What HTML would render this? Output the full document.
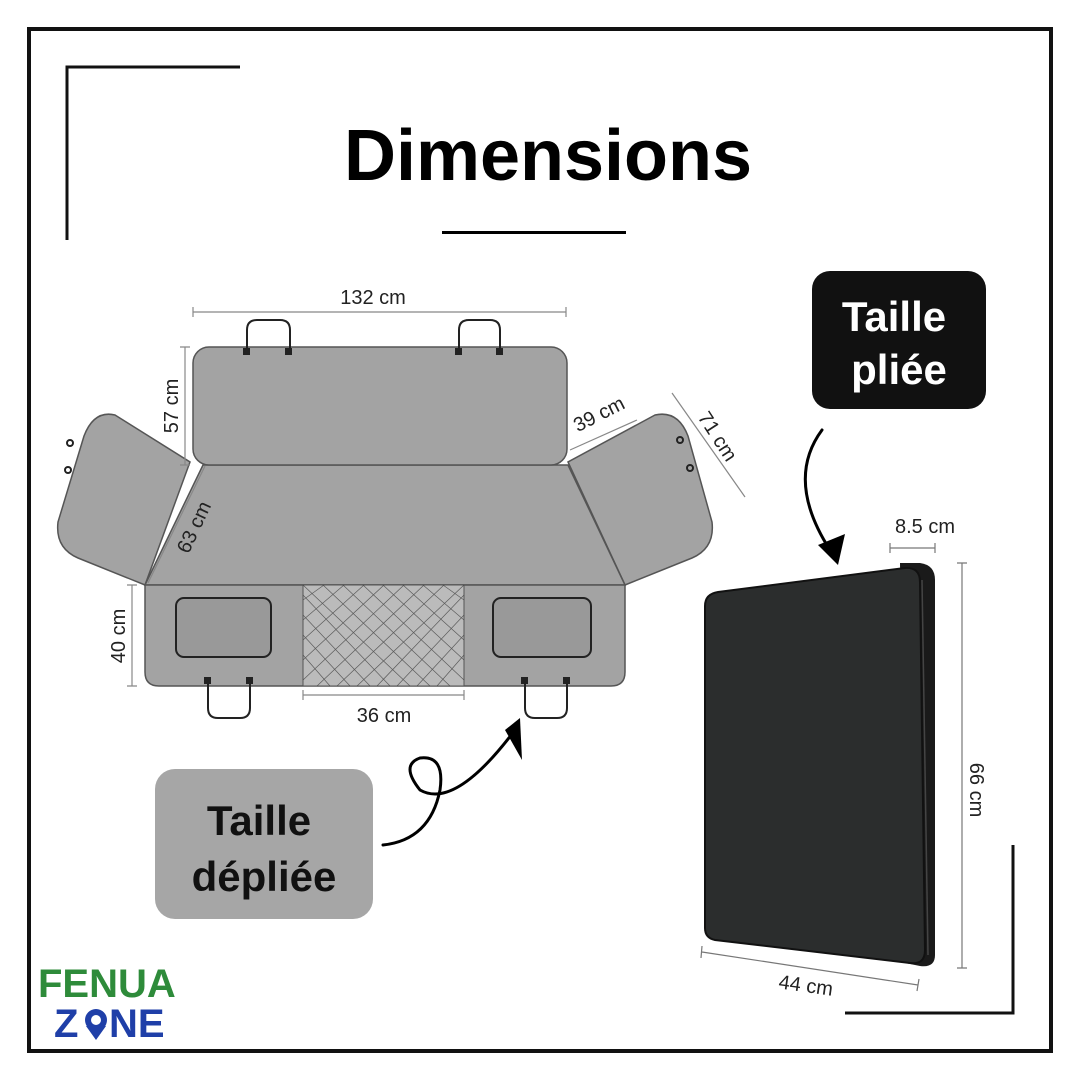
<!DOCTYPE html>
<html><head><meta charset="utf-8"><style>
html,body{margin:0;padding:0;background:#fff}
svg{display:block}
text{font-family:"Liberation Sans","DejaVu Sans",sans-serif}
</style></head><body>
<svg width="1080" height="1080" viewBox="0 0 1080 1080" xmlns="http://www.w3.org/2000/svg">
<rect x="0" y="0" width="1080" height="1080" fill="#fff"/>
<rect x="29" y="29" width="1022" height="1022" fill="none" stroke="#111" stroke-width="4"/>
<path d="M240 67 L67 67 L67 240" fill="none" stroke="#111" stroke-width="3"/>
<path d="M1013 845 L1013 1013 L845 1013" fill="none" stroke="#111" stroke-width="3"/>
<text x="548" y="180" font-size="72" font-weight="bold" text-anchor="middle" fill="#000" font-family="DejaVu Sans">Dimensions</text>
<rect x="442" y="231" width="184" height="3" fill="#000"/>

<!-- seat cover -->
<g stroke="#555" stroke-width="1.5" fill="#a3a3a3">
<path d="M115 415 L190 462 L145 585 L78 558 Q55 548 58 522 L84 436 Q94 410 115 415 Z"/>
<path d="M655 415 L568 462 L625 585 L692 558 Q715 548 712 522 L688 436 Q678 410 655 415 Z"/>
<path d="M203 465 L568 465 L625 585 L145 585 Z"/>
<rect x="193" y="347" width="374" height="118" rx="16"/>
<path d="M145 585 L625 585 L625 672 Q625 686 611 686 L159 686 Q145 686 145 672 Z"/>
</g>
<rect x="303" y="585" width="161" height="101" fill="#bbb" stroke="#555"/>
<g stroke="#444" stroke-width="0.7" opacity="0.8">
<path d="M303 595 L390 686 M303 615 L370 686 M303 635 L350 686 M303 655 L330 686 M303 585 L410 686 M323 585 L430 686 M343 585 L450 686 M363 585 L464 680 M383 585 L464 660 M403 585 L464 640 M423 585 L464 620 M443 585 L464 600"/>
<path d="M464 595 L377 686 M464 615 L397 686 M464 635 L417 686 M464 655 L437 686 M464 585 L357 686 M444 585 L337 686 M424 585 L317 686 M404 585 L303 680 M384 585 L303 660 M364 585 L303 640 M344 585 L303 620 M324 585 L303 600"/>
</g>
<rect x="176" y="598" width="95" height="59" rx="8" fill="#999" stroke="#222" stroke-width="2"/>
<rect x="493" y="598" width="98" height="59" rx="8" fill="#999" stroke="#222" stroke-width="2"/>
<g fill="none" stroke="#222" stroke-width="2">
<path d="M247 350 L247 330 Q247 320 257 320 L280 320 Q290 320 290 330 L290 350"/>
<path d="M459 350 L459 330 Q459 320 469 320 L490 320 Q500 320 500 330 L500 350"/>
<path d="M208 680 L208 708 Q208 718 218 718 L240 718 Q250 718 250 708 L250 680"/>
<path d="M525 680 L525 708 Q525 718 535 718 L557 718 Q567 718 567 708 L567 680"/>
<circle cx="70" cy="443" r="3"/><circle cx="68" cy="470" r="3"/>
<circle cx="680" cy="440" r="3"/><circle cx="690" cy="468" r="3"/>
</g>
<g fill="#222"><rect x="243" y="348" width="7" height="7"/><rect x="285" y="348" width="7" height="7"/><rect x="455" y="348" width="7" height="7"/><rect x="496" y="348" width="7" height="7"/><rect x="204" y="677" width="7" height="7"/><rect x="246" y="677" width="7" height="7"/><rect x="521" y="677" width="7" height="7"/><rect x="563" y="677" width="7" height="7"/></g>

<!-- dim lines -->
<g stroke="#888" stroke-width="1.2" fill="none">
<path d="M193 312 L566 312 M193 307 L193 317 M566 307 L566 317"/>
<path d="M185 347 L185 465 M180 347 L190 347 M180 465 L190 465"/>
<path d="M132 585 L132 686 M127 585 L137 585 M127 686 L137 686"/>
<path d="M303 695 L464 695 M303 690 L303 700 M464 690 L464 700"/>
<path d="M570 450 L637 420"/>
<path d="M672 393 L745 497"/>
<path d="M148 583 L205 466"/>
</g>
<g font-size="20" fill="#222">
<text x="373" y="304" text-anchor="middle">132 cm</text>
<text x="384" y="722" text-anchor="middle">36 cm</text>
<text transform="translate(178,406) rotate(-90)" text-anchor="middle">57 cm</text>
<text transform="translate(125,636) rotate(-90)" text-anchor="middle">40 cm</text>
<text transform="translate(602,420) rotate(-27)" text-anchor="middle">39 cm</text>
<text transform="translate(712,440) rotate(57)" text-anchor="middle">71 cm</text>
<text transform="translate(200,530) rotate(-65)" text-anchor="middle">63 cm</text>
</g>

<!-- labels -->
<rect x="155" y="769" width="218" height="150" rx="20" fill="#a6a6a6"/>
<text x="259" y="835" font-size="42" font-weight="bold" text-anchor="middle" fill="#111" font-family="DejaVu Sans">Taille</text>
<text x="264" y="891" font-size="42" font-weight="bold" text-anchor="middle" fill="#111" font-family="DejaVu Sans">dépliée</text>
<rect x="812" y="271" width="174" height="138" rx="18" fill="#111"/>
<text x="894" y="331" font-size="42" font-weight="bold" text-anchor="middle" fill="#fff" font-family="DejaVu Sans">Taille</text>
<text x="899" y="384" font-size="42" font-weight="bold" text-anchor="middle" fill="#fff" font-family="DejaVu Sans">pliée</text>

<!-- arrows -->
<g fill="none" stroke="#000" stroke-width="3" stroke-linecap="round">
<path d="M822 430 Q785 480 830 550"/>
<path d="M383 845 Q430 840 440 790 Q445 755 420 758 Q400 765 420 790 Q455 810 515 730"/>
</g>
<path d="M845 534 L838 565 L818 545 Z" fill="#000"/>
<path d="M505 730 L520 718 L522 760 Z" fill="#000"/>

<!-- folded mat -->
<path d="M900 563 L920 563 Q935 565 935 580 L935 955 Q935 968 920 966 L905 963 Z" fill="#1a1a1a"/>
<path d="M718 592 L905 568 Q920 567 920 582 L925 950 Q925 965 910 963 L715 940 Q705 938 705 928 L705 606 Q705 594 718 592 Z" fill="#2b2d2d" stroke="#111" stroke-width="2"/>
<path d="M922 580 L928 955" stroke="#444" stroke-width="1.5"/>
<g stroke="#777" stroke-width="1.2" fill="none">
<path d="M890 548 L935 548 M890 543 L890 553 M935 543 L935 553"/>
<path d="M962 563 L962 968 M957 563 L967 563 M957 968 L967 968"/>
<path d="M702 952 L918 985 M702 946 L701 958 M919 979 L917 991"/>
</g>
<g font-size="20" fill="#222">
<text x="925" y="533" text-anchor="middle">8.5 cm</text>
<text transform="translate(970,790) rotate(90)" text-anchor="middle">66 cm</text>
<text transform="translate(805,992) rotate(8)" text-anchor="middle">44 cm</text>
</g>

<!-- logo -->
<text x="38" y="997" font-size="40" font-weight="bold" fill="#2e8b3a" font-family="DejaVu Sans">FENUA</text>
<text x="54" y="1037" font-size="40" font-weight="bold" fill="#1f3fa8" font-family="DejaVu Sans">Z</text>
<circle cx="96" cy="1020" r="11" fill="#1f3fa8"/><path d="M86 1026 L96 1040 L106 1026 Z" fill="#1f3fa8"/>
<circle cx="96" cy="1020" r="5" fill="#fff"/>
<text x="109" y="1037" font-size="40" font-weight="bold" fill="#1f3fa8" font-family="DejaVu Sans">NE</text>
</svg>
</body></html>
